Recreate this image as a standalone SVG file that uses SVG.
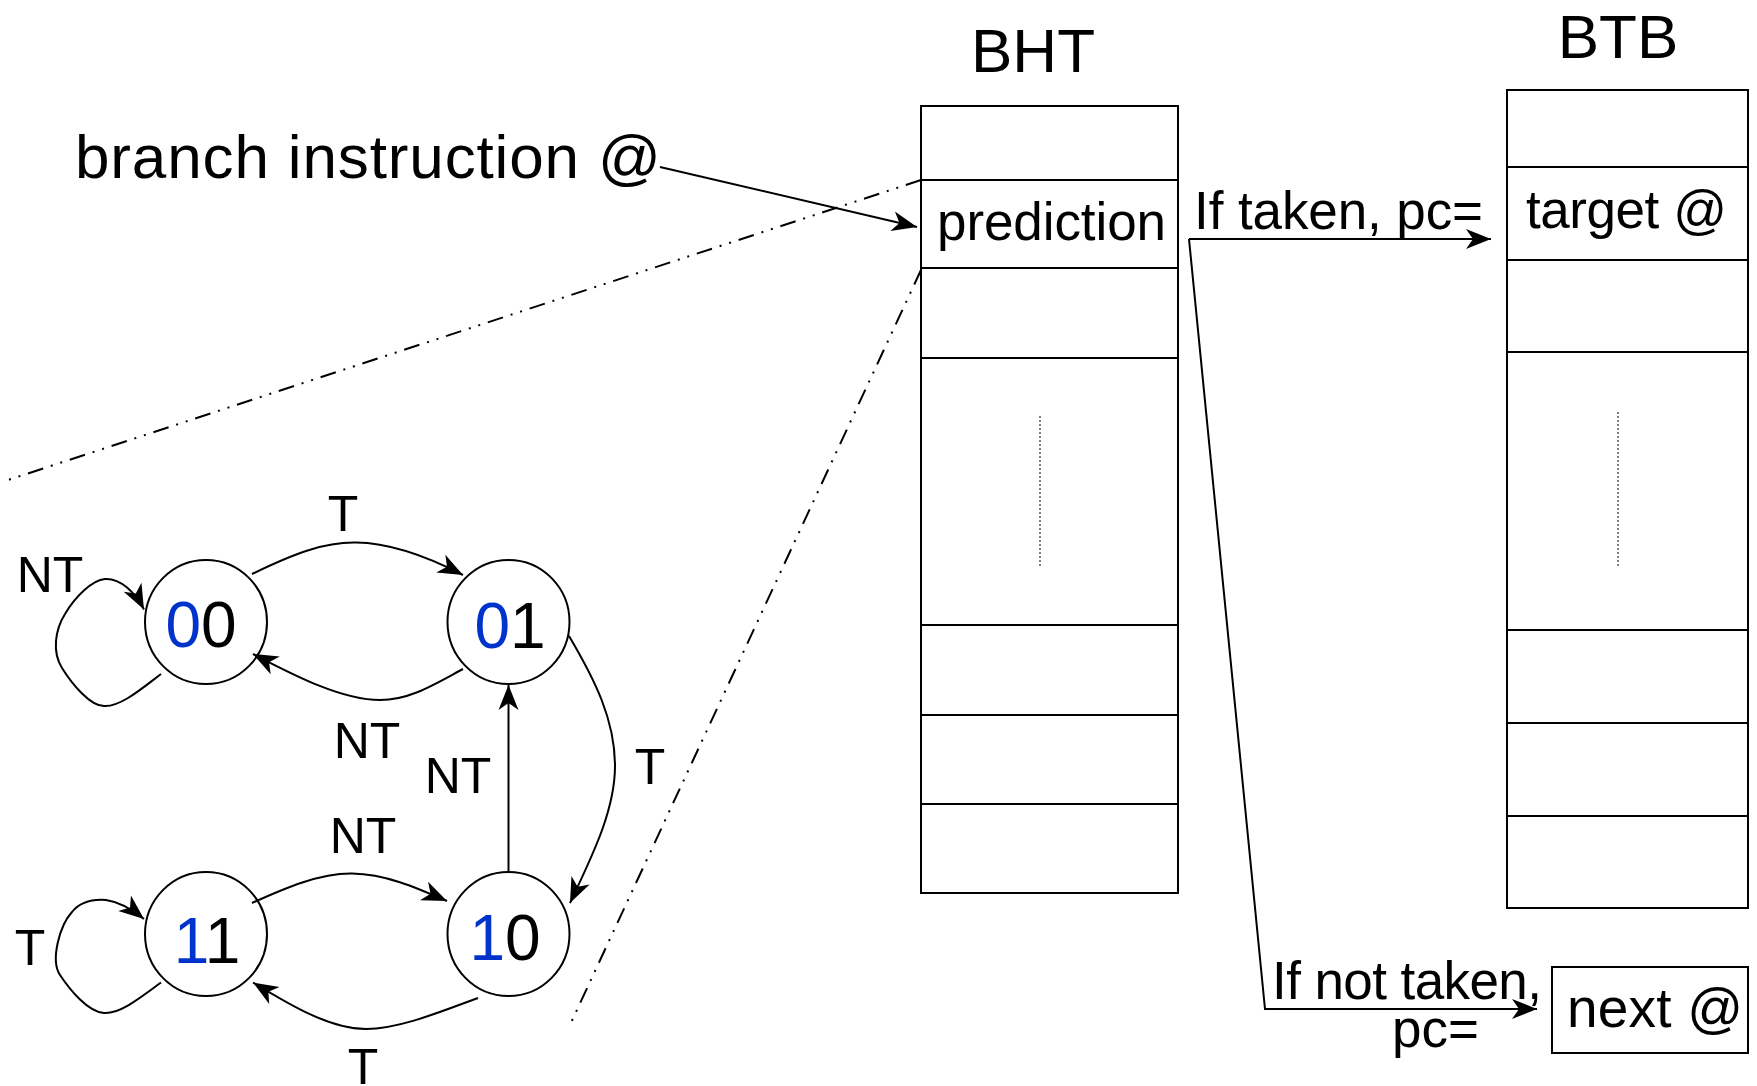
<svg xmlns="http://www.w3.org/2000/svg" width="1757" height="1086" viewBox="0 0 1757 1086">
  <style>
    text { font-family: "Liberation Sans", Arial, sans-serif; fill: #000; }
    .lbl { font-size: 50px; text-anchor: middle; }
    .big { font-size: 62px; }
    .mid { font-size: 53px; }
    .st { font-size: 64px; text-anchor: middle; }
    .hi { fill: #0033cc; }
    .box { fill: #fff; stroke: #000; stroke-width: 2; }
    .row { stroke: #000; stroke-width: 2; }
    .dots { stroke: #000; stroke-width: 1; stroke-dasharray: 2 2; }
    .edge { fill: none; stroke: #000; stroke-width: 2; }
    .arr { marker-end: url(#arrow); }
    .zoom { fill: none; stroke: #000; stroke-width: 2; stroke-dasharray: 16 8 2 8 2 8; }
    .state { fill: #fff; stroke: #000; stroke-width: 2; }
  </style>
  <defs>
    <marker id="arrow" markerUnits="userSpaceOnUse" orient="auto" overflow="visible" markerWidth="1" markerHeight="1" refX="0" refY="0">
      <path d="M0,0 L-25,-10 L-18,0 L-25,10 Z" fill="#000"/>
    </marker>
  </defs>
  <rect width="1757" height="1086" fill="#fff"/>

  <!-- zoom-out guide lines from the prediction entry -->
  <g id="guides">
    <line class="zoom" x1="921" y1="180" x2="8" y2="480"/>
    <line class="zoom" x1="921" y1="270" x2="569" y2="1027"/>
  </g>

  <!-- branch history table -->
  <g id="bht">
    <text class="big" x="1033" y="72" text-anchor="middle">BHT</text>
    <rect class="box" x="921" y="106" width="257" height="787"/>
    <line class="row" x1="921" y1="180" x2="1178" y2="180"/>
    <line class="row" x1="921" y1="268" x2="1178" y2="268"/>
    <line class="row" x1="921" y1="358" x2="1178" y2="358"/>
    <line class="row" x1="921" y1="625" x2="1178" y2="625"/>
    <line class="row" x1="921" y1="715" x2="1178" y2="715"/>
    <line class="row" x1="921" y1="804" x2="1178" y2="804"/>
    <line class="dots" x1="1040" y1="416" x2="1040" y2="566"/>
    <text class="mid" x="937" y="240" textLength="229">prediction</text>
  </g>

  <!-- branch target buffer -->
  <g id="btb">
    <text class="big" x="1618" y="58" text-anchor="middle">BTB</text>
    <rect class="box" x="1507" y="90" width="241" height="818"/>
    <line class="row" x1="1507" y1="167" x2="1748" y2="167"/>
    <line class="row" x1="1507" y1="260" x2="1748" y2="260"/>
    <line class="row" x1="1507" y1="352" x2="1748" y2="352"/>
    <line class="row" x1="1507" y1="630" x2="1748" y2="630"/>
    <line class="row" x1="1507" y1="723" x2="1748" y2="723"/>
    <line class="row" x1="1507" y1="816" x2="1748" y2="816"/>
    <line class="dots" x1="1618" y1="412" x2="1618" y2="566"/>
    <text class="mid" x="1526" y="228" textLength="201">target @</text>
  </g>

  <!-- fall-through address -->
  <g id="next">
    <rect class="box" x="1552" y="967" width="196" height="86"/>
    <text x="1567" y="1027" font-size="55" textLength="176">next @</text>
  </g>

  <!-- source address -->
  <g id="branch">
    <text class="big" x="75" y="178" font-size="63" textLength="586">branch instruction @</text>
  </g>

  <!-- two-bit saturating counter states -->
  <g id="s00">
    <ellipse class="state" cx="206" cy="622" rx="61" ry="62"/>
    <text class="st" x="201" y="647"><tspan class="hi">0</tspan>0</text>
  </g>
  <g id="s01">
    <ellipse class="state" cx="508.5" cy="622" rx="61" ry="62"/>
    <text class="st" x="510" y="648"><tspan class="hi">0</tspan>1</text>
  </g>
  <g id="s11">
    <ellipse class="state" cx="206" cy="934" rx="61" ry="62"/>
    <text class="st" x="207" y="963"><tspan class="hi">1</tspan>1</text>
  </g>
  <g id="s10">
    <ellipse class="state" cx="508.5" cy="934" rx="61" ry="62"/>
    <text class="st" x="505" y="960"><tspan class="hi">1</tspan>0</text>
  </g>

  <!-- connectors -->
  <g id="edges">
    <path class="edge arr" d="M660,167 L917,227"/>
    <path class="edge arr" d="M1189,239 L1491,239"/>
    <path class="edge arr" d="M1189,239 L1265,1009 L1537,1009"/>

    <!-- 00 -> 01 (T) -->
    <path class="edge arr" d="M252,574 C295,553 325,542 356,542.6 C392,543 430,558 463,575"/>
    <!-- 01 -> 00 (NT) -->
    <path class="edge arr" d="M463,669 C435,684 410,700 380,700 C340,700 290,673 253,654"/>
    <!-- 00 self loop (NT) -->
    <path class="edge arr" d="M161,674 C140,690 120,707 104,706 C90,706 72,684 62,668 C52,652 55,630 65,614 C75,597 92,580 105,579 C120,578 135,592 144,609.5"/>
    <!-- 01 -> 10 (T) -->
    <path class="edge arr" d="M569,636 C595,680 615,720 615,766 C615,812 590,860 570,903"/>
    <!-- 10 -> 01 (NT) -->
    <path class="edge arr" d="M508.5,872 L508.5,685"/>
    <!-- 11 -> 10 (NT) -->
    <path class="edge arr" d="M252,903 C285,888 320,873 352,873.5 C385,874 415,887 447,901"/>
    <!-- 10 -> 11 (T) -->
    <path class="edge arr" d="M478,998 C445,1010 400,1029 366,1029 C330,1029 290,1005 253,982.5"/>
    <!-- 11 self loop (T) -->
    <path class="edge arr" d="M161,982.5 C140,998 120,1014 104,1013 C88,1012 70,990 60,975 C50,960 60,925 72,912 C80,902 92,899 106,900 C120,902 133,910 144,919"/>
  </g>

  <!-- edge labels -->
  <g id="labels">
    <text class="mid" x="1194" y="229" textLength="289">If taken, pc=</text>
    <text class="mid" x="1272" y="999" font-size="52" textLength="270">If not taken,</text>
    <text class="mid" x="1392" y="1047" font-size="52">pc=</text>

    <text class="lbl" x="343" y="531">T</text>
    <text class="lbl" x="367" y="758">NT</text>
    <text class="lbl" x="50" y="592">NT</text>
    <text class="lbl" x="458" y="793">NT</text>
    <text class="lbl" x="363" y="853">NT</text>
    <text class="lbl" x="650" y="784">T</text>
    <text class="lbl" x="30" y="965">T</text>
    <text class="lbl" x="363" y="1084">T</text>
  </g>
</svg>
